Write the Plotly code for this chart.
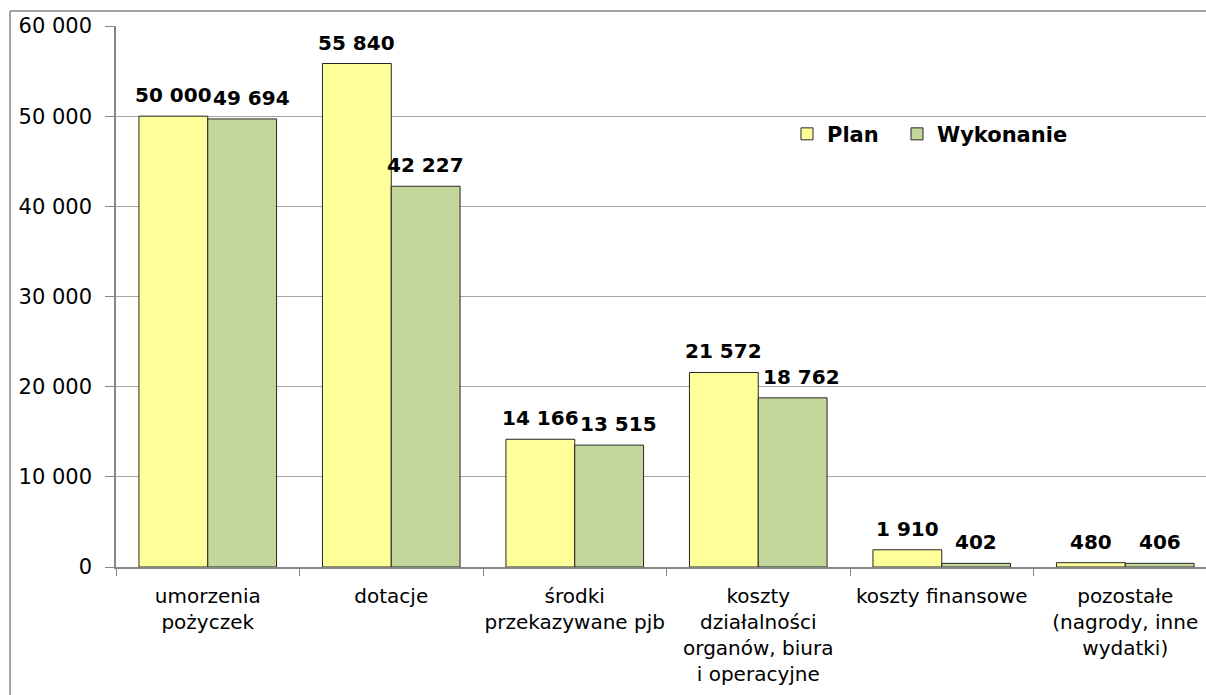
import plotly.graph_objects as go

categories = [
    "umorzenia<br>pożyczek",
    "dotacje",
    "środki<br>przekazywane pjb",
    "koszty<br>działalności<br>organów, biura<br>i operacyjne",
    "koszty finansowe",
    "pozostałe<br>(nagrody, inne<br>wydatki)",
]
plan = [50000, 55840, 14166, 21572, 1910, 480]
wykonanie = [49694, 42227, 13515, 18762, 402, 406]
series_names = ["Plan", "Wykonanie"]
y_ticks = [0, 10000, 20000, 30000, 40000, 50000, 60000]

FONT = "DejaVu Sans"
LABEL_SIZE = 20
BAR_HALF = 34.3        # px offset of each bar centre from category centre
PX_PER_UNIT = 541 / 60000


def fmt(v):
    return f"{v:,}".replace(",", " ")


def text_w(s):
    # rough width estimate for bold DejaVu Sans labels
    return sum((0.35 if ch == " " else 0.70) * LABEL_SIZE for ch in s)


fig = go.Figure()
fig.add_trace(go.Bar(name=series_names[0], x=categories, y=plan, legend="legend",
                     marker=dict(color="#FFFF99", line=dict(color="#262626", width=1))))
fig.add_trace(go.Bar(name=series_names[1], x=categories, y=wykonanie, legend="legend2",
                     marker=dict(color="#C4D79B", line=dict(color="#262626", width=1))))

label_font = dict(family=FONT, size=LABEL_SIZE, color="black", weight="bold")
for c, p, w in zip(categories, plan, wykonanie):
    tp, tw = fmt(p), fmt(w)
    # simple collision avoidance like Excel: push second label right if it overlaps
    extra = 0
    if abs(p - w) * PX_PER_UNIT < 30:
        overlap = (text_w(tp) + text_w(tw)) / 2 - 2 * BAR_HALF
        if overlap > 0:
            extra = overlap + 1
    fig.add_annotation(x=c, y=p, xref="x", yref="y", text=tp, showarrow=False,
                       xshift=-BAR_HALF, yshift=7, yanchor="bottom", font=label_font)
    fig.add_annotation(x=c, y=w, xref="x", yref="y", text=tw, showarrow=False,
                       xshift=BAR_HALF + extra, yshift=7, yanchor="bottom", font=label_font)

legend_style = dict(
    orientation="h", y=0.80, xanchor="left", yanchor="middle",
    font=dict(family=FONT, size=21, color="black", weight="bold"),
    bgcolor="rgba(0,0,0,0)", itemwidth=30,
)
fig.update_layout(
    width=1206, height=695,
    margin=dict(l=116, r=0, t=26, b=128, autoexpand=False),
    paper_bgcolor="white", plot_bgcolor="white",
    barmode="group", bargap=0.25, bargroupgap=0,
    separators=", ",
    font=dict(family=FONT, size=20, color="black"),
    legend=dict(x=0.6156, **legend_style),
    legend2=dict(x=0.7165, **legend_style),
    showlegend=True,
)
fig.update_xaxes(
    range=[-0.5, 5.44], showline=True, linecolor="#868686", linewidth=1.5,
    ticks="outside", tickson="boundaries", ticklen=7, tickcolor="#868686",
    tickfont=dict(family=FONT, size=20, color="black"), showgrid=False,
    tickangle=0, automargin=False, ticklabelstandoff=10,
)
fig.update_yaxes(
    range=[0, 60000], tickvals=y_ticks, tickformat=",d",
    showline=True, linecolor="#868686", linewidth=1.5,
    ticks="outside", ticklen=9, tickcolor="#868686",
    showgrid=True, gridcolor="#A6A6A6", gridwidth=1, zeroline=False,
    tickfont=dict(family=FONT, size=21, color="black"), ticklabelstandoff=9,
    automargin=False,
)
# outer chart border (left and top edges visible)
fig.add_shape(type="line", xref="paper", yref="paper",
              x0=-0.0972, x1=-0.0972, y0=-0.4, y1=1.0277,
              line=dict(color="#868686", width=1.5))
fig.add_shape(type="line", xref="paper", yref="paper",
              x0=-0.0972, x1=1.1, y0=1.0277, y1=1.0277,
              line=dict(color="#868686", width=1.5))

fig.write_html(
    "out.html",
    config={"displayModeBar": False},
    post_script="document.body.style.margin='0';document.body.style.overflow='hidden';",
)
